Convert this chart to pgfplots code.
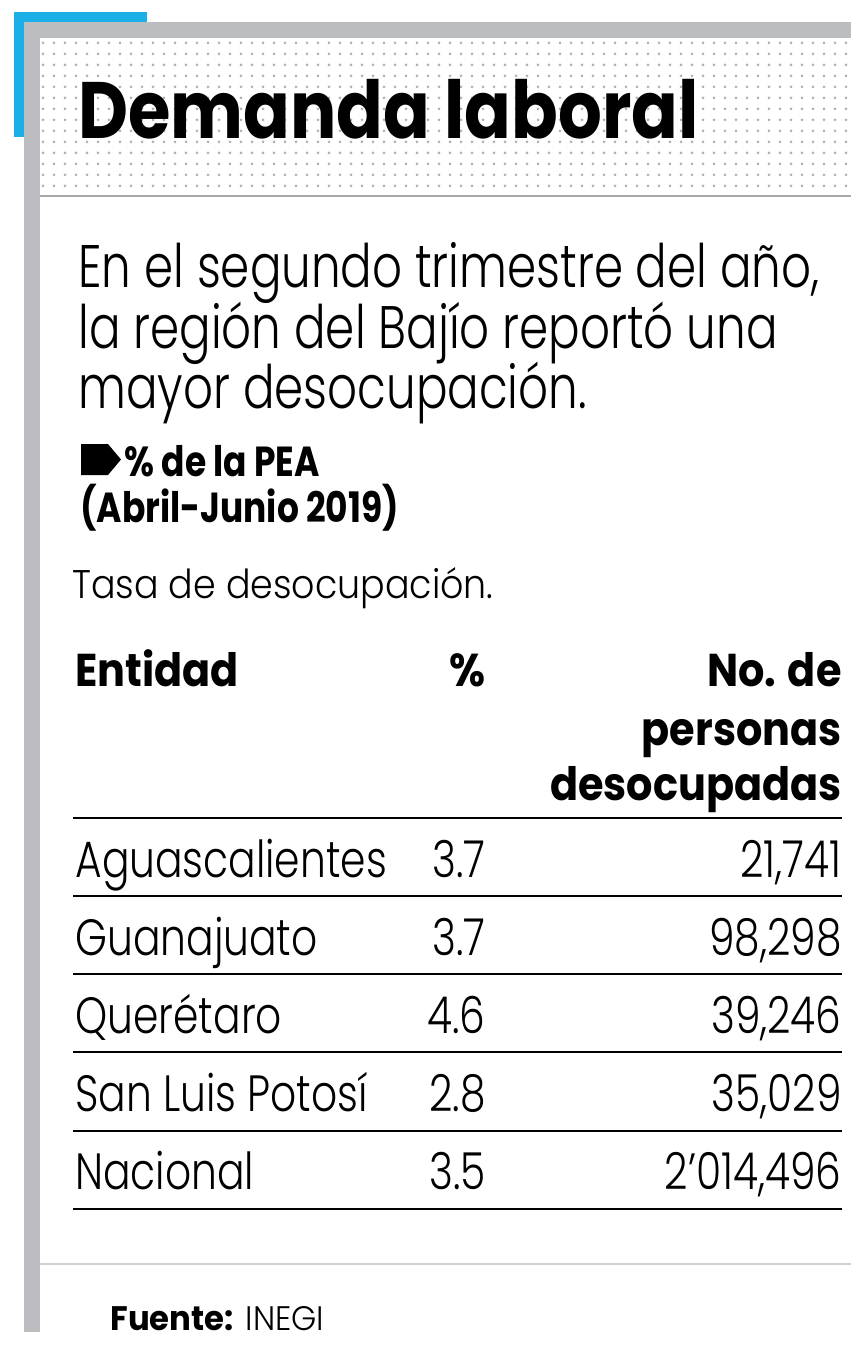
\documentclass[border=0pt]{standalone}
\usepackage{pgfplots}
\pgfplotsset{compat=1.18}
\usepackage{pgfplotstable}
\usepackage{fontspec}
\setmainfont{Poppins}
\newfontfamily\titlef{Poppins}[FakeStretch=0.86]
\newfontfamily\subf{Poppins Light}[FakeStretch=0.78]
\newfontfamily\rowf{Poppins Light}[FakeStretch=0.80]
\newfontfamily\headf{Poppins}[FakeStretch=0.90]
\newfontfamily\pebf{Poppins}[FakeStretch=0.82]
\newfontfamily\tasaf{Poppins Light}[FakeStretch=0.91]
\newfontfamily\fuentef{Poppins}[FakeStretch=0.95]
\newfontfamily\fuentel{Poppins Light}[FakeStretch=0.95]
\definecolor{azul}{HTML}{1AAFE6}
\definecolor{barra}{HTML}{BCBDC0}
\definecolor{punto}{HTML}{B0B0B0}
\definecolor{linea}{HTML}{A8A8A8}
\definecolor{lineab}{HTML}{D0D0D0}
\pgfplotstableread[col sep=semicolon]{
y;ent;pct;num
877;Aguascalientes;3.7;21,741
955;Guanajuato;3.7;98,298
1033;Querétaro;4.6;39,246
1111;San Luis Potosí;2.8;35,029
1189;Nacional;3.5;2’014,496
}\tabla
\begin{document}
\begin{tikzpicture}
\useasboundingbox (0,0) rectangle (432pt,673pt);
\begin{scope}[x=0.5pt,y=-0.5pt,yshift=673pt]
\fill[azul] (14,12) rectangle (147,137);
\fill[white] (24,22) rectangle (851,196);
\fill[barra] (24,22) rectangle (851,38);
\fill[barra] (24,22) rectangle (40,1332);
\foreach \yy in {43,54,...,190}{
  \foreach \xx in {43,54,...,850}{
    \fill[punto] (\xx,\yy) circle[radius=1.5];
  }
}
\draw[linea,line width=1pt] (40,196) -- (851,196);
\draw[lineab,line width=1pt] (40,1264) -- (851,1264);
\end{scope}
\begin{axis}[
  at={(0,0)}, anchor=south west,
  scale only axis, width=432pt, height=673pt,
  xmin=0, xmax=864, ymin=0, ymax=1346, y dir=reverse,
  hide axis, clip=false]
% title
\node[anchor=base west, inner sep=0pt, font=\titlef\bfseries\fontsize{40pt}{44pt}\selectfont] at (axis cs:78,138) {Demanda laboral};
% subtitle
\node[anchor=base west, inner sep=0pt, font=\subf\fontsize{30pt}{34pt}\selectfont] at (axis cs:78,287) {En el segundo trimestre del año,};
\node[anchor=base west, inner sep=0pt, font=\subf\fontsize{30pt}{34pt}\selectfont] at (axis cs:78,348) {la región del Bajío reportó una};
\node[anchor=base west, inner sep=0pt, font=\subf\fontsize{30pt}{34pt}\selectfont] at (axis cs:78,408) {mayor desocupación.};
% icon + units
\fill[black] (axis cs:81,444) -- (axis cs:108,444) -- (axis cs:121,459.5) -- (axis cs:108,475) -- (axis cs:81,475) -- cycle;
\node[anchor=base west, inner sep=0pt, font=\pebf\bfseries\fontsize{21pt}{24pt}\selectfont] at (axis cs:124,476) {\% de la PEA};
\node[anchor=base west, inner sep=0pt, font=\pebf\bfseries\fontsize{21pt}{24pt}\selectfont] at (axis cs:80,522) {(Abril-Junio 2019)};
\node[anchor=base west, inner sep=0pt, font=\tasaf\fontsize{20pt}{24pt}\selectfont] at (axis cs:72,598) {Tasa de desocupación.};
% headers
\node[anchor=base west, inner sep=0pt, font=\headf\bfseries\fontsize{23pt}{26pt}\selectfont] at (axis cs:75,686) {Entidad};
\node[anchor=base east, inner sep=0pt, font=\headf\bfseries\fontsize{23pt}{26pt}\selectfont] at (axis cs:486,686) {\%};
\node[anchor=base east, inner sep=0pt, font=\headf\bfseries\fontsize{23pt}{26pt}\selectfont] at (axis cs:842,686) {No. de};
\node[anchor=base east, inner sep=0pt, font=\headf\bfseries\fontsize{23pt}{26pt}\selectfont] at (axis cs:842,745) {personas};
\node[anchor=base east, inner sep=0pt, font=\headf\bfseries\fontsize{23pt}{26pt}\selectfont] at (axis cs:842,800) {desocupadas};
% rules
\draw[black,line width=1pt] (axis cs:73,818) -- (axis cs:842,818);
\draw[black,line width=1pt] (axis cs:73,896) -- (axis cs:842,896);
\draw[black,line width=1pt] (axis cs:73,974) -- (axis cs:842,974);
\draw[black,line width=1pt] (axis cs:73,1052) -- (axis cs:842,1052);
\draw[black,line width=1pt] (axis cs:73,1131) -- (axis cs:842,1131);
\draw[black,line width=1pt] (axis cs:73,1209) -- (axis cs:842,1209);
% table data
\addplot[draw=none, mark=none, nodes near coords, point meta=explicit symbolic,
  nodes near coords style={anchor=base west, inner sep=0pt, font=\rowf\fontsize{25.5pt}{30pt}\selectfont}]
  table[x expr=75, y=y, meta=ent]{\tabla};
\addplot[draw=none, mark=none, nodes near coords, point meta=explicit symbolic,
  nodes near coords style={anchor=base east, inner sep=0pt, font=\rowf\fontsize{25.5pt}{30pt}\selectfont}]
  table[x expr=486, y=y, meta=pct]{\tabla};
\addplot[draw=none, mark=none, nodes near coords, point meta=explicit symbolic,
  nodes near coords style={anchor=base east, inner sep=0pt, font=\rowf\fontsize{25.5pt}{30pt}\selectfont}]
  table[x expr=842, y=y, meta=num]{\tabla};
% source
\node[anchor=base west, inner sep=0pt, font=\fontsize{17pt}{20pt}\selectfont] at (axis cs:110,1330) {{\fuentef\bfseries Fuente:} {\fuentel INEGI}};
\end{axis}
\end{tikzpicture}
\end{document}
